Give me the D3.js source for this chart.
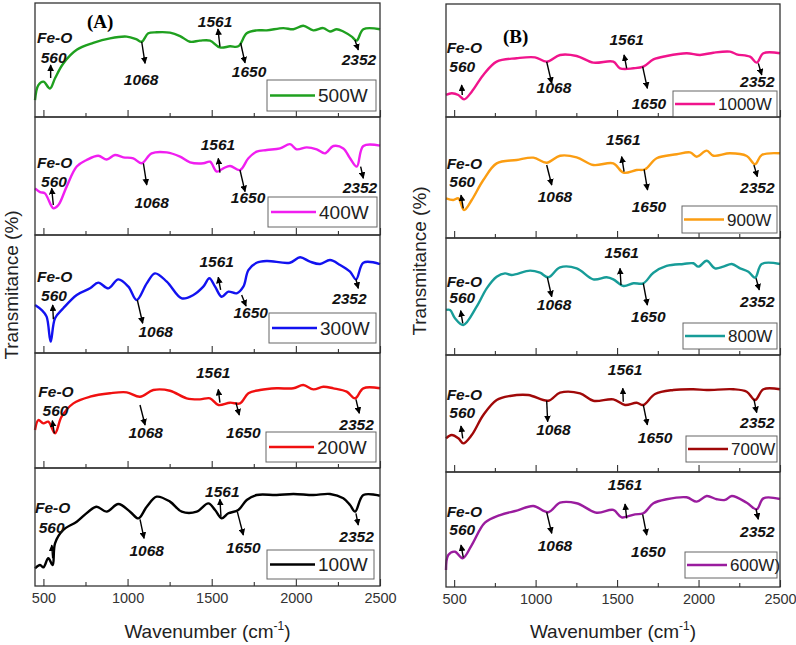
<!DOCTYPE html>
<html><head><meta charset="utf-8">
<script src="https://cdn.jsdelivr.net/npm/d3@7"></script>
<style>body{margin:0;background:#fff}svg{display:block}</style>
</head><body><svg id="c" width="796" height="645"></svg>
<script>
// ---------------- DATA ----------------
const majorTicks = [500, 1000, 1500, 2000, 2500];
const minorTicks = [750, 1250, 1750, 2250];
const seriesNamesA = ["500W", "400W", "300W", "200W", "100W"];
const seriesNamesB = ["1000W", "900W", "800W", "700W", "600W)"];

const w500 = [450,470,500,539,569,618,698,796,896,995,1054,1084,1123,1173,1252,1312,1371,1430,1490,1549,1609,1658,1708,1767,1827,1925,1985,2044,2104,2163,2203,2243,2282,2332,2361,2401,2500];
const t500 = [14.9,28,31,25,34,47,59,65,69,70.5,68,66,73.4,74.3,74,71,66,67,67,61,62,62,73.4,76,76,78,77,80,76,78,75,77,75,70.5,67,77,77];

const w400 = [450,480,509,559,589,638,698,757,826,876,925,975,1034,1084,1143,1233,1312,1371,1450,1490,1530,1569,1609,1668,1718,1767,1827,1906,1965,2005,2065,2124,2173,2223,2282,2322,2362,2401,2500];
const t400 = [39.5,36.4,35.3,22.6,25.4,41,58,63.6,67.2,64,67.8,65.8,65,60.8,69.2,70,66.4,61.6,60.8,62.1,53.7,56.5,58.5,55,65,70.6,72,73.4,77,72.6,74.3,72.6,69.2,75.4,73.4,65,58,75.4,75.7];

const w300 = [450,490,519,543,569,618,698,777,826,886,945,1005,1054,1114,1163,1233,1322,1391,1450,1486,1520,1559,1599,1648,1688,1718,1767,1827,1965,2025,2084,2144,2203,2263,2322,2358,2401,2500];
const t300 = [40.7,36.4,30.8,9.6,29.4,37.9,49.2,54.8,59.6,54.8,62.4,56.2,44.9,59,67.5,60.5,46.3,49.2,56.2,63.3,56.2,47.7,52,50.6,56.2,70.3,76.5,78,76.5,81.1,77.4,75.4,78.8,74.6,68.9,62.4,76.5,75.4];

const w200 = [450,470,500,529,569,608,678,777,896,995,1074,1153,1252,1351,1430,1490,1540,1609,1668,1718,1787,1886,1985,2044,2104,2163,2223,2302,2352,2401,2500];
const t200 = [33,41.7,38.8,40.3,30.2,44.6,56.2,62,65,65.8,62,67.8,67.2,60.6,59.7,60.6,54.8,56.8,56.2,65,67.8,69.3,69.3,72.2,68.4,70.7,69.3,66.4,60.6,69.3,69.3];

const w100 = [450,480,500,529,555,569,618,698,767,816,876,945,1015,1064,1114,1173,1252,1322,1411,1480,1520,1559,1599,1658,1708,1767,1886,1985,2104,2203,2282,2322,2352,2401,2500];
const t100 = [15,17.8,15.8,23.5,17.8,36.2,47.5,54.5,63,67.2,63,69.5,63,57.3,67.2,75.7,71.5,63,63,70,64.4,57.3,61.6,64.4,72.9,77.1,77.1,78,77.1,78,74.3,68.6,63,77.1,76.5];

const w1000 = [450,485,526,561,608,679,761,884,996,1068,1150,1252,1354,1477,1518,1600,1661,1723,1804,1927,2009,2091,2193,2234,2316,2357,2398,2500];
const t1000 = [19.5,21,19.5,15.6,22.4,37.2,49,52,52.8,49,54.9,54,48.1,49,43.1,43.1,44.5,51,54,56.4,54.9,56.9,57.8,55.5,53.4,48.1,56.4,56.4];

const w900 = [450,495,526,561,608,679,761,884,986,1068,1150,1252,1354,1477,1539,1620,1672,1743,1866,1948,1989,2050,2091,2193,2296,2347,2388,2500];
const t900 = [32.8,31.4,32.8,23.1,31.4,47.9,61.7,64.5,66.4,62.2,68,66.7,60.3,61.7,54,56.2,56.8,65.9,69.2,70.8,67.2,72.2,68,70,67.8,60.9,68.6,70];

const w800 = [450,475,505,556,638,700,761,812,853,966,1027,1078,1150,1252,1354,1436,1477,1539,1600,1661,1723,1804,1907,1968,1999,2050,2101,2152,2204,2255,2306,2347,2388,2500];
const t800 = [38.5,38.5,31.4,25.6,41.3,57,66.9,69.8,68.4,72.1,70.3,66.4,74.9,74.1,64.7,66.4,64.7,59,61.3,61.3,70.3,76.1,77.8,78.4,75.5,80.6,74.1,75.5,77.8,74.1,71.2,66.1,77.8,77.8];

const w700 = [450,485,526,556,608,679,761,843,955,1078,1150,1273,1354,1477,1549,1620,1661,1733,1845,1968,2050,2214,2296,2347,2398,2500];
const t700 = [28.8,31.6,28.8,24.5,31.6,48.7,61.5,65,65.8,60.9,67.8,67.2,60.9,62.1,57.3,59.2,57.3,66.7,70.1,70.7,70.1,70.7,68.6,61.5,70.7,70.7];

const w600 = [450,464,505,552,608,689,782,884,986,1078,1150,1252,1375,1477,1528,1610,1661,1723,1804,1927,1989,2050,2112,2163,2204,2296,2357,2398,2500];
const t600 = [14.8,27.8,30.7,25,36.5,55.9,62.6,66.4,70.4,65,73.3,72.8,64.6,67,60.6,63.2,64.1,72.8,76.3,78,74.2,79.1,76.3,75.7,79.1,73.3,67.6,77.1,76.5];

// annotation labels: [text, wavenumber, transmittance(baseline)]
const lab500 = [["Fe-O",462,64.9],["560",561,47.4],["1068",1080,28.1],["1561",1520,79.2],["1650",1722,35.4],["2352",2375,45.6]];
const lab400 = [["Fe-O",462,56.8],["560",563,40.9],["1068",1143,22.6],["1561",1537,72],["1650",1716,27.4],["2352",2381,35.8]];
const lab300 = [["Fe-O",462,60.4],["560",563,44.3],["1068",1167,13.8],["1561",1530,73.1],["1650",1732,29.4],["2352",2318,41.5]];
const lab200 = [["Fe-O",470,62],["560",572,45.2],["1068",1108,25.8],["1561",1509,78],["1650",1688,25.8],["2352",2361,33]];
const lab100 = [["Fe-O",450,61.6],["560",549,45.2],["1068",1114,25.4],["1561",1563,75.7],["1650",1688,28.2],["2352",2361,37.5]];
const lab1000 = [["Fe-O",454,56.9],["560",550,40.1],["1068",1113,21],["1561",1559,63.7],["1650",1696,6.8],["2352",2361,26.3]];
const lab900 = [["Fe-O",454,56.8],["560",550,42.4],["1068",1119,30],["1561",1538,76.9],["1650",1696,21.7],["2352",2361,37.4]];
const lab800 = [["Fe-O",454,58.4],["560",550,44.2],["1068",1113,38.5],["1561",1528,82.6],["1650",1692,28.5],["2352",2361,41.3]];
const lab700 = [["Fe-O",454,61.5],["560",550,45.9],["1068",1109,31.6],["1561",1549,82.9],["1650",1733,24.5],["2352",2361,37.4]];
const lab600 = [["Fe-O",454,61.1],["560",550,45.2],["1068",1119,31.6],["1561",1549,84.3],["1650",1692,26.3],["2352",2361,43.7]];

// arrows: [wn tail, T tail, wn head, T head]
const arr500 = [[543,34.2,543,45.6],[1084,66,1104,47.1],[1549,61.7,1537,77.2],[1672,64.9,1698,47.4],[2351,67.5,2371,58.8]];
const arr400 = [[559,25.4,549,39.6],[1094,60.8,1114,42.4],[1549,52.8,1539,65],[1668,55.1,1698,36.7],[2385,57.9,2401,48.1]];
const arr300 = [[559,28.6,555,40.7],[1058,44.9,1090,25.2],[1553,53.4,1539,64.2],[1678,49.2,1704,39.8],[2357,62.5,2371,54.8]];
const arr200 = [[565,30.2,553,41.1],[1074,54.8,1104,37.4],[1549,56.8,1539,68.4],[1644,56.8,1664,46.1],[2357,59.7,2377,47.6]];
const arr100 = [[555,23.5,549,34.7],[1074,56.5,1098,40.4],[1555,58.7,1549,73.5],[1652,63,1688,43.2],[2357,61.6,2371,51.7]];
const arr1000 = [[550,19.5,546,28.3],[1068,48.9,1099,29.8],[1559,43.1,1543,54.9],[1657,44.5,1686,25.4],[2367,47.5,2388,37.2]];
const arr900 = [[556,24.5,542,35.5],[1068,60.3,1099,43.8],[1543,54.8,1528,67.2],[1666,56.8,1687,39.7],[2340,60.3,2361,50.7]];
const arr800 = [[553,27.1,540,37.9],[1072,66.4,1099,49.8],[1524,59.8,1518,74.1],[1661,61.3,1686,42.7],[2353,65.6,2373,55.6]];
const arr700 = [[553,28.8,542,39.3],[1068,60.9,1074,43],[1538,60.1,1535,71.5],[1661,57.3,1686,40.2],[2340,62.1,2357,50.7]];
const arr600 = [[556,25.8,542,36.5],[1068,65,1099,46.7],[1559,59.7,1549,72.2],[1657,63.2,1682,45.2],[2353,67.6,2367,58.9]];

// ---------------- LAYOUT ----------------
const svg = d3.select("#c");
const xA = d3.scaleLinear().domain([450, 2500]).range([35, 380]);
const xB = d3.scaleLinear().domain([450, 2500]).range([446, 780]);
const boundsA = [3, 117, 235, 353, 468, 586];
const boundsB = [4, 117, 238, 355, 472, 587];
const legA = [{x:267,y:80,w:109,h:31},{x:268,y:197,w:109,h:30},{x:269,y:313,w:107,h:30},{x:266,y:432,w:110,h:30},{x:267,y:550,w:107,h:29}];
const legB = [{x:673,y:91,w:104,h:26},{x:682,y:206,w:95,h:27},{x:683,y:323,w:94,h:26},{x:686,y:436,w:91,h:26},{x:685,y:552,w:92,h:26}];

const colorsA = ["#1fa01f", "#f01ef0", "#1212f0", "#f01010", "#000000"];
const colorsB = ["#f0148c", "#fb9d12", "#179c98", "#a00808", "#9a1c9e"];
const wA = [w500, w400, w300, w200, w100], tA = [t500, t400, t300, t200, t100];
const wB = [w1000, w900, w800, w700, w600], tB = [t1000, t900, t800, t700, t600];
const labA = [lab500, lab400, lab300, lab200, lab100], labB = [lab1000, lab900, lab800, lab700, lab600];
const arrA = [arr500, arr400, arr300, arr200, arr100], arrB = [arr1000, arr900, arr800, arr700, arr600];

svg.append("defs").append("marker")
  .attr("id", "ah").attr("viewBox", "0 0 10 10").attr("refX", 9).attr("refY", 5)
  .attr("markerWidth", 4.8).attr("markerHeight", 4.8).attr("orient", "auto")
  .append("path").attr("d", "M0,0L10,5L0,10z").attr("fill", "#000");

const FONT = "'Liberation Sans', Arial, sans-serif";

function drawColumn(x, bounds, names, colors, ws, ts, labs, arrs, legs, legFont, legLine, legText) {
  const g = svg.append("g");
  for (let i = 0; i < 5; i++) {
    const top = bounds[i], bottom = bounds[i + 1];
    const y = d3.scaleLinear().domain([0, 100]).range([bottom, top]);
    const pts = ws[i].map((w, k) => [w, ts[i][k]]);
    const line = d3.line().x(d => x(d[0])).y(d => y(d[1])).curve(d3.curveCatmullRom.alpha(0.5));
    g.append("path").attr("d", line(pts)).attr("fill", "none")
      .attr("stroke", colors[i]).attr("stroke-width", 2.4).attr("stroke-linejoin", "round");

    // ticks (inward)
    const isBottom = i === 4;
    const ax = d3.axisBottom(x).tickValues(majorTicks).tickSizeInner(-7).tickSizeOuter(0).tickPadding(7)
      .tickFormat(isBottom ? d3.format("d") : () => "");
    const ag = g.append("g").attr("transform", `translate(0,${bottom})`).call(ax);
    ag.select(".domain").remove();
    ag.selectAll("line").attr("stroke", "#333").attr("stroke-width", 1.1);
    ag.selectAll("text").attr("font-family", FONT).attr("font-size", 14.5).attr("fill", "#333");
    const mg = g.append("g").attr("transform", `translate(0,${bottom})`)
      .call(d3.axisBottom(x).tickValues(minorTicks).tickSizeInner(-4).tickSizeOuter(0).tickFormat(() => ""));
    mg.select(".domain").remove();
    mg.selectAll("line").attr("stroke", "#333").attr("stroke-width", 1.1);

    // frame
    g.append("rect").attr("x", x.range()[0]).attr("y", top)
      .attr("width", x.range()[1] - x.range()[0]).attr("height", bottom - top)
      .attr("fill", "none").attr("stroke", "#333").attr("stroke-width", 1.3);

    // arrows
    arrs[i].forEach(a => {
      g.append("line").attr("x1", x(a[0])).attr("y1", y(a[1])).attr("x2", x(a[2])).attr("y2", y(a[3]))
        .attr("stroke", "#000").attr("stroke-width", 1.4).attr("marker-end", "url(#ah)");
    });
    // labels
    labs[i].forEach(l => {
      g.append("text").attr("x", x(l[1])).attr("y", y(l[2])).text(l[0])
        .attr("text-anchor", l[0] === "Fe-O" ? "start" : "middle")
        .attr("font-family", FONT).attr("font-size", 15.5).attr("font-weight", "bold")
        .attr("font-style", "italic").attr("fill", "#111");
    });
    // legend
    const L = legs[i];
    g.append("rect").attr("x", L.x).attr("y", L.y).attr("width", L.w).attr("height", L.h)
      .attr("fill", "#fff").attr("stroke", "#666").attr("stroke-width", 1);
    const cy = L.y + L.h / 2;
    g.append("line").attr("x1", L.x + legLine[0]).attr("x2", L.x + legLine[1]).attr("y1", cy).attr("y2", cy)
      .attr("stroke", colors[i]).attr("stroke-width", 2.6);
    g.append("text").attr("x", L.x + legText).attr("y", cy + legFont * 0.36).text(names[i])
      .attr("font-family", FONT).attr("font-size", legFont).attr("fill", "#222");
  }
  return g;
}

drawColumn(xA, boundsA, seriesNamesA, colorsA, wA, tA, labA, arrA, legA, 19, [3, 48], 51);
drawColumn(xB, boundsB, seriesNamesB, colorsB, wB, tB, labB, arrB, legB, 17, [2, 42], 45);

// panel letters
const yA0 = d3.scaleLinear().domain([0, 100]).range([boundsA[1], boundsA[0]]);
const yB0 = d3.scaleLinear().domain([0, 100]).range([boundsB[1], boundsB[0]]);
svg.append("text").attr("x", xA(759)).attr("y", yA0(78.1)).text("(A)")
  .attr("font-family", "'Liberation Serif', 'Times New Roman', serif").attr("font-weight", "bold").attr("font-size", 19);
svg.append("text").attr("x", xB(800)).attr("y", yB0(65.5)).text("(B)")
  .attr("font-family", "'Liberation Serif', 'Times New Roman', serif").attr("font-weight", "bold").attr("font-size", 19);

// axis titles
function xTitle(x) {
  const c = (x.range()[0] + x.range()[1]) / 2;
  const t = svg.append("text").attr("x", c).attr("y", 638).attr("text-anchor", "middle")
    .attr("font-family", FONT).attr("font-size", 19).attr("fill", "#222");
  t.append("tspan").text("Wavenumber (cm");
  t.append("tspan").attr("dy", -8).attr("font-size", 12).text("-1");
  t.append("tspan").attr("dy", 8).text(")");
}
xTitle(xA); xTitle(xB);
function yTitle(px, py) {
  svg.append("text").attr("transform", `translate(${px},${py}) rotate(-90)`).attr("text-anchor", "middle")
    .attr("font-family", FONT).attr("font-size", 19).attr("fill", "#222").text("Transmitance (%)");
}
yTitle(18, 285); yTitle(426, 261);
</script>
</body></html>
